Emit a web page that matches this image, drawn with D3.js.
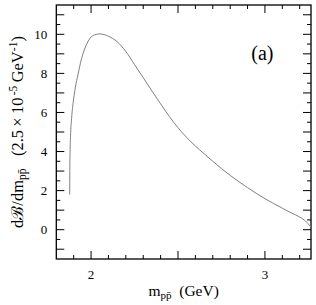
<!DOCTYPE html>
<html>
<head>
<meta charset="utf-8">
<script src="https://cdnjs.cloudflare.com/ajax/libs/d3/7.8.5/d3.min.js"></script>
<style>
  body { margin: 0; background: #fff; }
  text { font-family: "Liberation Serif", "Times New Roman", serif; fill: #000; }
</style>
</head>
<body>
<svg id="chart" width="316" height="305"></svg>
<script>
// invariant mass (GeV) and dB/dm (units of 2.5e-5 GeV^-1)
var mass = [1.877, 1.8775, 1.879, 1.882, 1.888, 1.897, 1.910, 1.925, 1.945, 1.975,
            2.010, 2.050, 2.100, 2.150, 2.200, 2.250, 2.300, 2.350, 2.400, 2.450,
            2.500, 2.550, 2.600, 2.650, 2.700, 2.750, 2.800, 2.850, 2.900, 2.950,
            3.000, 3.050, 3.100, 3.150, 3.200, 3.230, 3.265];
var rate = [1.80, 2.8, 3.9, 4.8, 5.7, 6.5, 7.3, 7.95, 8.75, 9.5,
            9.93, 10.02, 9.90, 9.62, 9.12, 8.45, 7.78, 7.10, 6.44, 5.80,
            5.22, 4.72, 4.28, 3.89, 3.50, 3.13, 2.78, 2.46, 2.15, 1.86,
            1.59, 1.34, 1.10, 0.87, 0.65, 0.47, 0.13];

var xTickLabels = [2, 3];
var yTickLabels = [0, 2, 4, 6, 8, 10];

// plot frame
var margin = { 'top': 5, 'left': 56.3, 'right': 5, 'bottom': 46 };
var width = 316 - margin.left - margin.right;
var height = 305 - margin.top - margin.bottom;

var svg = d3.select('#chart');
var g = svg.append('g')
           .attr('transform', 'translate(' + margin.left + ',' + margin.top + ')');

var x = d3.scaleLinear().domain([1.8, 3.265]).range([0, width]);
var y = d3.scaleLinear().domain([-1.5, 11.5]).range([height, 0]);

// tick positions: every 0.1 GeV on x, every 0.5 on y
var xTicks = d3.range(18, 33).map(function(d) { return d / 10; });
var yTicks = d3.range(-2, 24).map(function(d) { return d / 2; });
var isMajorX = function(d) { return Math.abs(d * 2 - Math.round(d * 2)) < 1e-6; };
var isMajorY = function(d) { return Math.abs(d - Math.round(d)) < 1e-6; };
var longTick = 8, shortTick = 4;

function drawAxis(axis, scale, ticks, isMajor) {
    var sel = g.append('g').attr('class', 'ticks');
    sel.selectAll('line')
       .data(ticks)
       .enter()
       .append('line')
         .attr('stroke', '#000')
         .attr('stroke-width', 1)
         .each(function(d) {
             var len = isMajor(d) ? longTick : shortTick;
             var p = scale(d);
             var l = d3.select(this);
             if (axis === 'bottom') l.attr('x1', p).attr('x2', p).attr('y1', height).attr('y2', height - len);
             if (axis === 'top') l.attr('x1', p).attr('x2', p).attr('y1', 0).attr('y2', len);
             if (axis === 'left') l.attr('y1', p).attr('y2', p).attr('x1', 0).attr('x2', len);
             if (axis === 'right') l.attr('y1', p).attr('y2', p).attr('x1', width).attr('x2', width - len);
         });
}

drawAxis('bottom', x, xTicks.filter(function(d) { return d > 1.8; }), isMajorX);
drawAxis('top', x, xTicks.filter(function(d) { return d > 1.8; }), isMajorX);
drawAxis('left', y, yTicks.filter(function(d) { return d > -1.5 && d < 11.5; }), isMajorY);
drawAxis('right', y, yTicks.filter(function(d) { return d > -1.5 && d < 11.5; }), isMajorY);

// frame
g.append('rect')
 .attr('width', width)
 .attr('height', height)
 .attr('fill', 'none')
 .attr('stroke', '#000')
 .attr('stroke-width', 1.3);

// tick labels
g.selectAll('.xlab')
 .data(xTickLabels)
 .enter()
 .append('text')
   .attr('class', 'xlab')
   .attr('x', function(d) { return x(d); })
   .attr('y', height + 20)
   .attr('text-anchor', 'middle')
   .attr('font-size', 13)
   .text(function(d) { return d; });

g.selectAll('.ylab')
 .data(yTickLabels)
 .enter()
 .append('text')
   .attr('class', 'ylab')
   .attr('x', -9)
   .attr('y', function(d) { return y(d); })
   .attr('dy', '0.35em')
   .attr('text-anchor', 'end')
   .attr('font-size', 13)
   .text(function(d) { return d; });

// the curve
var line = d3.line()
             .x(function(d, i) { return x(mass[i]); })
             .y(function(d, i) { return y(rate[i]); })
             .curve(d3.curveMonotoneX);

g.append('path')
 .datum(mass)
 .attr('d', line)
 .attr('fill', 'none')
 .attr('stroke', '#808080')
 .attr('stroke-width', 1);

// panel label
g.append('text')
 .attr('x', 195)
 .attr('y', 55)
 .attr('font-size', 20)
 .text('(a)');

// x title
var xt = svg.append('text')
            .attr('x', margin.left + width / 2)
            .attr('y', 296)
            .attr('text-anchor', 'middle')
            .attr('font-size', 15.5);
xt.append('tspan').text('m');
xt.append('tspan').attr('font-size', 11).attr('dy', 3).text('pp\u0304');
xt.append('tspan').attr('dy', -3).text('\u00a0\u00a0(GeV)');

// y title
var yt = svg.append('text')
            .attr('transform', 'translate(23,' + (margin.top + height / 2) + ') rotate(-90)')
            .attr('text-anchor', 'middle')
            .attr('font-size', 16.5);
yt.append('tspan').text('d\u212C/dm');
yt.append('tspan').attr('font-size', 11.5).attr('dy', 3).text('pp\u0304');
yt.append('tspan').attr('dy', -3).text('\u00a0\u00a0\u00a0(2.5\u2009\u00d7\u200910');
yt.append('tspan').attr('font-size', 11.5).attr('dy', -6).text('\u2009-5');
yt.append('tspan').attr('dy', 6).text('\u2009GeV');
yt.append('tspan').attr('font-size', 11.5).attr('dy', -6).text('-1');
yt.append('tspan').attr('dy', 6).text(')');
</script>
</body>
</html>
